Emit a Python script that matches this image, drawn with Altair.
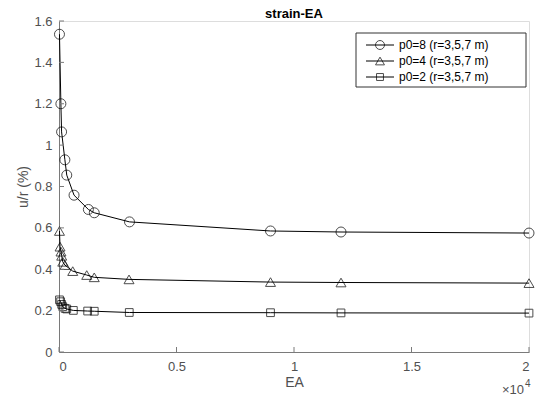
import altair as alt
import pandas as pd

# ---- data ----
EA_8 = [20, 80, 110, 250, 330, 640, 1250, 1500, 3000, 9000, 12000, 20000]
U_8 = [1.536, 1.200, 1.064, 0.929, 0.855, 0.758, 0.689, 0.673, 0.629, 0.585, 0.580, 0.575]

EA_4 = [20, 45, 85, 115, 160, 255, 585, 1180, 1500, 2980, 9000, 12000, 20000]
U_4 = [0.585, 0.509, 0.485, 0.465, 0.436, 0.420, 0.391, 0.372, 0.361, 0.351, 0.338, 0.336, 0.333]

EA_2 = [20, 70, 115, 160, 255, 330, 610, 1220, 1500, 2990, 9000, 12000, 20000]
U_2 = [0.252, 0.243, 0.230, 0.219, 0.211, 0.208, 0.201, 0.198, 0.197, 0.191, 0.190, 0.189, 0.188]

series_names = ["p0=8 (r=3,5,7 m)", "p0=4 (r=3,5,7 m)", "p0=2 (r=3,5,7 m)"]
series_shapes = ["circle", "triangle-up", "square"]
series_sizes = [100, 100, 60]

x_ticks = [0, 5000, 10000, 15000, 20000]
y_ticks = [0, 0.2, 0.4, 0.6, 0.8, 1.0, 1.2, 1.4, 1.6]

W, H = 470, 331
FONT = "Liberation Sans"
AX_COL = "#7a7a7a"
LAB_COL = "#505050"

xs = alt.Scale(domain=[0, 20000], nice=False)
ys = alt.Scale(domain=[0, 1.6], nice=False)

x_axis = alt.Axis(values=x_ticks, labelExpr="format(datum.value/10000, '~g')",
                  ticks=False, grid=False, domainColor=AX_COL, labelColor=LAB_COL,
                  labelFont=FONT, labelFontSize=13, labelPadding=8, title="EA",
                  titleFont=FONT, titleFontSize=14, titleFontWeight="normal",
                  titleColor=LAB_COL, titlePadding=2)
y_axis = alt.Axis(values=y_ticks, format="~g", ticks=False, grid=False,
                  domainColor=AX_COL, labelColor=LAB_COL, labelFont=FONT,
                  labelFontSize=13, labelPadding=7, title="u/r (%)",
                  titleFont=FONT, titleFontSize=14, titleFontWeight="normal",
                  titleColor=LAB_COL, titlePadding=3)

frames = []
for name, ea, u in zip(series_names, [EA_8, EA_4, EA_2], [U_8, U_4, U_2]):
    frames.append(pd.DataFrame({"EA": ea, "u": u, "series": name}))

enc_x = alt.X("EA:Q", scale=xs, axis=x_axis, title="EA")
enc_y = alt.Y("u:Q", scale=ys, axis=y_axis, title="u/r (%)")

layers = []
for df, shp, sz in zip(frames, series_shapes, series_sizes):
    line = alt.Chart(df).mark_line(color="black", strokeWidth=1).encode(x=enc_x, y=enc_y)
    pts = alt.Chart(df).mark_point(shape=shp, size=sz, filled=False, color="black",
                                   strokeWidth=1).encode(x=enc_x, y=enc_y)
    layers += [line, pts]

# inward tick marks
xt = pd.DataFrame({"EA": x_ticks})
yt = pd.DataFrame({"u": y_ticks})
xtick = alt.Chart(xt).mark_rule(color=AX_COL, strokeWidth=1).encode(
    x=enc_x, y=alt.value(H), y2=alt.value(H - 5))
ytick = alt.Chart(yt).mark_rule(color=AX_COL, strokeWidth=1).encode(
    y=enc_y, x=alt.value(0), x2=alt.value(5))

# exponent label
one = pd.DataFrame({"a": [0]})
exp1 = alt.Chart(one).mark_text(
    text="×10", font=FONT, fontSize=13, color=LAB_COL, align="right", baseline="middle").encode(
    x=alt.value(465), y=alt.value(369))
exp2 = alt.Chart(one).mark_text(
    text="4", font=FONT, fontSize=10, color=LAB_COL, align="left", baseline="middle").encode(
    x=alt.value(466), y=alt.value(363))

# legend
LY = [24, 40, 56]
leg_rows = pd.DataFrame({"name": series_names, "ly": LY})
box = alt.Chart(one).mark_rect(
    fill="white", stroke="#333333", strokeWidth=1).encode(
    x=alt.value(297), x2=alt.value(467), y=alt.value(12), y2=alt.value(66))
leg_line = alt.Chart(leg_rows).mark_rule(color="black", strokeWidth=1).encode(
    y=alt.Y("ly:Q", scale=None, axis=None), x=alt.value(307), x2=alt.value(335))
leg_layers = [box, leg_line]
for shp, sz, ly in zip(series_shapes, series_sizes, LY):
    d = pd.DataFrame({"ly": [ly]})
    leg_layers.append(alt.Chart(d).mark_point(shape=shp, size=sz * 0.8, filled=False,
                                              color="black", strokeWidth=1).encode(
        y=alt.Y("ly:Q", scale=None, axis=None), x=alt.value(321)))
leg_text = alt.Chart(leg_rows).mark_text(font=FONT, fontSize=12, color="black",
                                         align="left", baseline="middle").encode(
    y=alt.Y("ly:Q", scale=None, axis=None), x=alt.value(340), text="name:N")
leg_layers.append(leg_text)

chart = alt.layer(*layers, xtick, ytick, exp1, exp2, *leg_layers).properties(
    width=W, height=H,
    title=alt.TitleParams("strain-EA", font=FONT, fontSize=13, fontWeight="bold",
                          color="black", anchor="middle", offset=-6),
    autosize=alt.AutoSizeParams(type="none"),
    padding={"left": 59, "top": 21, "right": 13, "bottom": 47},
).configure_view(stroke=None).configure(background="white")

chart.save("out.html", embed_options={"renderer": "svg", "actions": False})
